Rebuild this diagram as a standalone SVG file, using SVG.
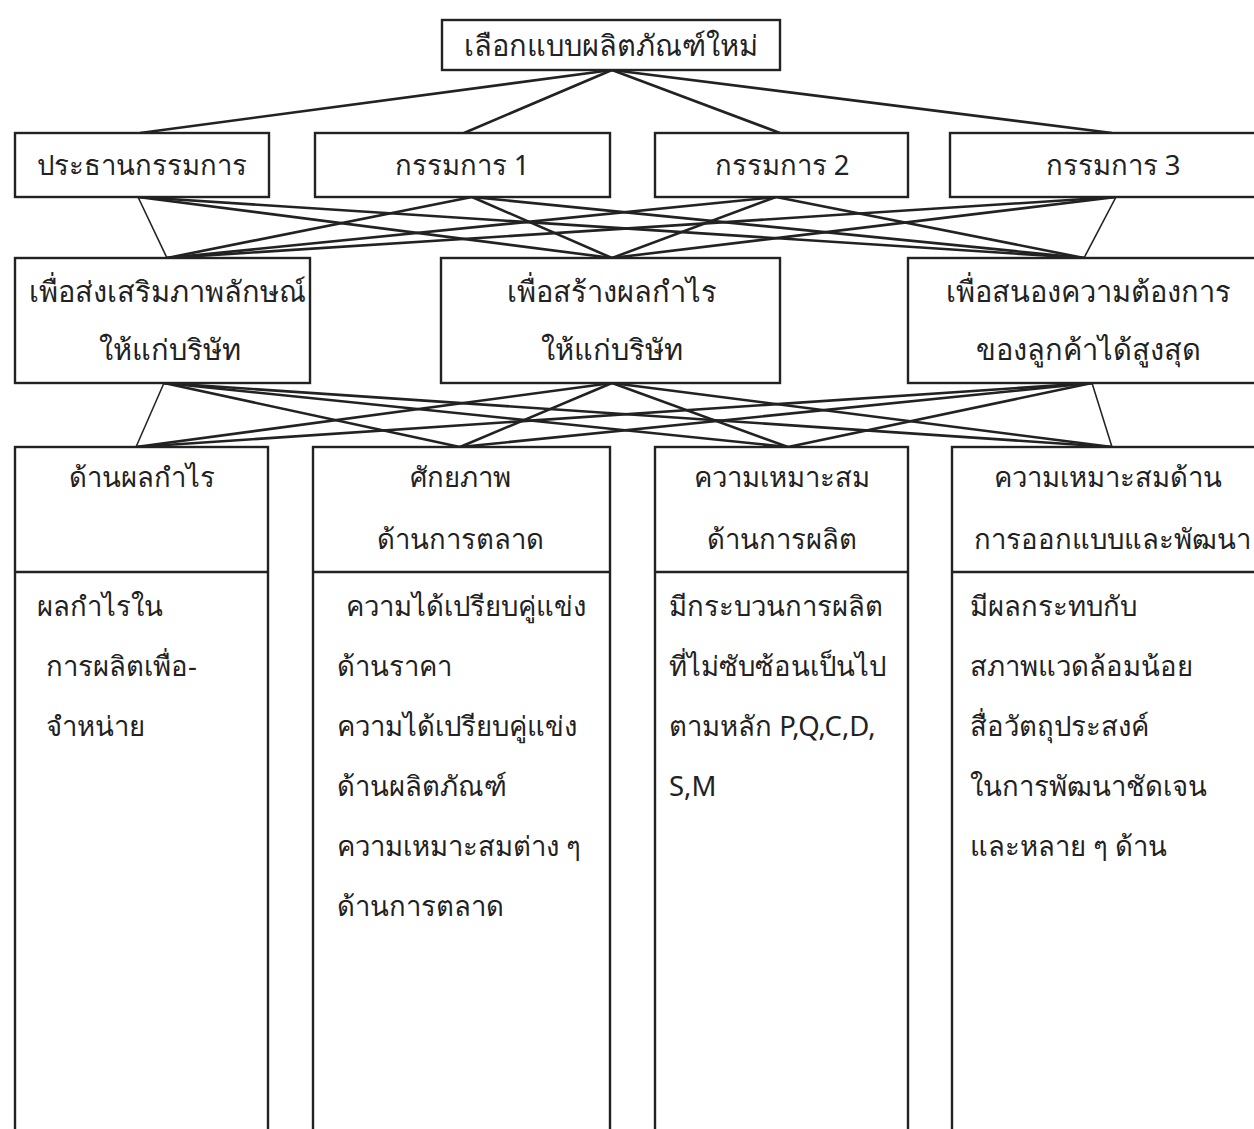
<svg xmlns="http://www.w3.org/2000/svg" width="1254" height="1129" viewBox="0 0 1254 1129">
<style>
.box{fill:#fff;stroke:#222;stroke-width:2.4}
.t{font-family:"Noto Sans","DejaVu Sans",sans-serif;font-size:27.5px;fill:#222}
.big{font-size:29px}
.c{text-anchor:middle}
.ln{stroke:#222;stroke-width:2.6;fill:none}
.thin{stroke:#222;stroke-width:1.6;fill:none}
</style>
<rect width="1254" height="1129" fill="#fff"/>
<g id="connectors">
<line class="ln" x1="612" y1="70" x2="140" y2="133"/>
<line class="ln" x1="612" y1="70" x2="464" y2="133"/>
<line class="ln" x1="612" y1="70" x2="780" y2="133"/>
<line class="ln" x1="612" y1="70" x2="1112" y2="133"/>
<line class="thin" x1="138" y1="197" x2="167" y2="258"/>
<line class="ln" x1="138" y1="197" x2="612" y2="258"/>
<line class="ln" x1="138" y1="197" x2="1084" y2="258"/>
<line class="ln" x1="472" y1="197" x2="167" y2="258"/>
<line class="ln" x1="472" y1="197" x2="612" y2="258"/>
<line class="ln" x1="472" y1="197" x2="1084" y2="258"/>
<line class="ln" x1="776" y1="197" x2="167" y2="258"/>
<line class="ln" x1="776" y1="197" x2="612" y2="258"/>
<line class="ln" x1="776" y1="197" x2="1084" y2="258"/>
<line class="ln" x1="1116" y1="197" x2="167" y2="258"/>
<line class="ln" x1="1116" y1="197" x2="612" y2="258"/>
<line class="thin" x1="1116" y1="197" x2="1084" y2="258"/>
<line class="thin" x1="164" y1="383" x2="136" y2="447"/>
<line class="ln" x1="164" y1="383" x2="460" y2="447"/>
<line class="ln" x1="164" y1="383" x2="788" y2="447"/>
<line class="ln" x1="164" y1="383" x2="1112" y2="447"/>
<line class="ln" x1="612" y1="383" x2="136" y2="447"/>
<line class="ln" x1="612" y1="383" x2="460" y2="447"/>
<line class="ln" x1="612" y1="383" x2="788" y2="447"/>
<line class="ln" x1="612" y1="383" x2="1112" y2="447"/>
<line class="ln" x1="1092" y1="383" x2="136" y2="447"/>
<line class="ln" x1="1092" y1="383" x2="460" y2="447"/>
<line class="ln" x1="1092" y1="383" x2="788" y2="447"/>
<line class="thin" x1="1092" y1="383" x2="1112" y2="447"/>
</g>
<g id="top">
<rect class="box" x="442" y="20" width="338" height="50"/>
<text class="t big c" x="611" y="56">เลือกแบบผลิตภัณฑ์ใหม่</text>
</g>
<g id="chair">
<rect class="box" x="15" y="133" width="254" height="64"/>
<text class="t c" x="142" y="175">ประธานกรรมการ</text>
</g>
<g id="dir1">
<rect class="box" x="315" y="133" width="295" height="64"/>
<text class="t c" x="462" y="175">กรรมการ 1</text>
</g>
<g id="dir2">
<rect class="box" x="655" y="133" width="253" height="64"/>
<text class="t c" x="782" y="175">กรรมการ 2</text>
</g>
<g id="dir3">
<rect class="box" x="950" y="133" width="320" height="64"/>
<text class="t c" x="1113" y="175">กรรมการ 3</text>
</g>
<g id="goal1">
<rect class="box" x="15" y="258" width="295" height="125"/>
<text class="t big c" x="167" y="302">เพื่อส่งเสริมภาพลักษณ์</text>
<text class="t big c" x="170" y="360">ให้แก่บริษัท</text>
</g>
<g id="goal2">
<rect class="box" x="441" y="258" width="339" height="125"/>
<text class="t big c" x="612" y="302">เพื่อสร้างผลกำไร</text>
<text class="t big c" x="612" y="360">ให้แก่บริษัท</text>
</g>
<g id="goal3">
<rect class="box" x="908" y="258" width="360" height="125"/>
<text class="t big c" x="1088" y="302">เพื่อสนองความต้องการ</text>
<text class="t big c" x="1088" y="360">ของลูกค้าได้สูงสุด</text>
</g>
<g id="crit1">
<rect class="box" x="15" y="447" width="253" height="700"/>
<line class="box" x1="15" y1="572" x2="268" y2="572"/>
<text class="t c" x="142" y="487">ด้านผลกำไร</text>
<text class="t" x="37" y="616">ผลกำไรใน</text>
<text class="t" x="46" y="676">การผลิตเพื่อ-</text>
<text class="t" x="46" y="736">จำหน่าย</text>
</g>
<g id="crit2">
<rect class="box" x="313" y="447" width="297" height="700"/>
<line class="box" x1="313" y1="572" x2="610" y2="572"/>
<text class="t c" x="460" y="487">ศักยภาพ</text>
<text class="t c" x="460" y="549">ด้านการตลาด</text>
<text class="t" x="346" y="616">ความได้เปรียบคู่แข่ง</text>
<text class="t" x="337" y="676">ด้านราคา</text>
<text class="t" x="337" y="736">ความได้เปรียบคู่แข่ง</text>
<text class="t" x="337" y="796">ด้านผลิตภัณฑ์</text>
<text class="t" x="337" y="856">ความเหมาะสมต่าง ๆ</text>
<text class="t" x="337" y="916">ด้านการตลาด</text>
</g>
<g id="crit3">
<rect class="box" x="655" y="447" width="253" height="700"/>
<line class="box" x1="655" y1="572" x2="908" y2="572"/>
<text class="t c" x="782" y="487">ความเหมาะสม</text>
<text class="t c" x="782" y="549">ด้านการผลิต</text>
<text class="t" x="669" y="616">มีกระบวนการผลิต</text>
<text class="t" x="669" y="676">ที่ไม่ซับซ้อนเป็นไป</text>
<text class="t" x="669" y="736">ตามหลัก P,Q,C,D,</text>
<text class="t" x="669" y="796">S,M</text>
</g>
<g id="crit4">
<rect class="box" x="952" y="447" width="320" height="700"/>
<line class="box" x1="952" y1="572" x2="1272" y2="572"/>
<text class="t c" x="1108" y="487">ความเหมาะสมด้าน</text>
<text class="t c" x="1112" y="549">การออกแบบและพัฒนา</text>
<text class="t" x="970" y="616">มีผลกระทบกับ</text>
<text class="t" x="970" y="676">สภาพแวดล้อมน้อย</text>
<text class="t" x="970" y="736">สื่อวัตถุประสงค์</text>
<text class="t" x="970" y="796">ในการพัฒนาชัดเจน</text>
<text class="t" x="970" y="856">และหลาย ๆ ด้าน</text>
</g>
</svg>
